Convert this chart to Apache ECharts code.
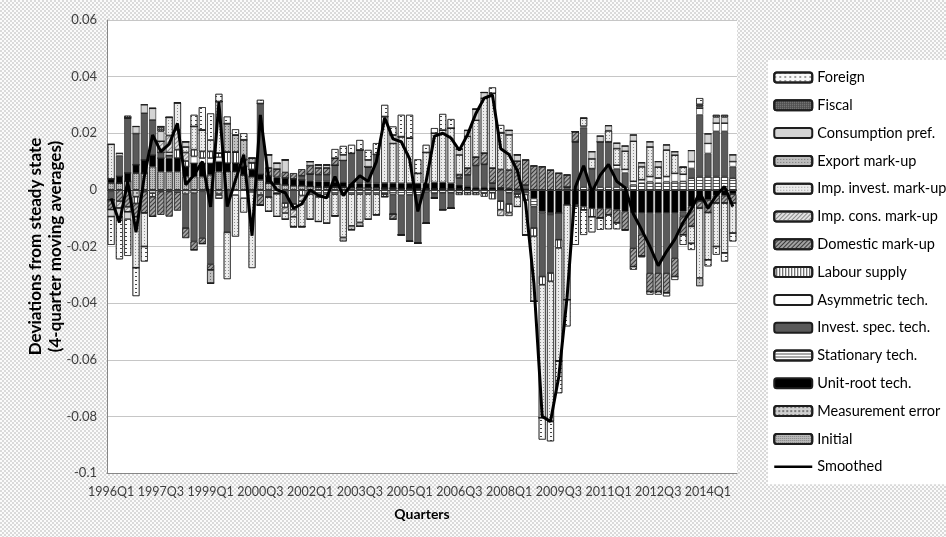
<!DOCTYPE html>
<html><head><meta charset="utf-8">
<script src="https://cdn.jsdelivr.net/npm/echarts/dist/echarts.min.js"></script>
<style>
html,body{margin:0;padding:0;}
body{width:946px;height:537px;background:repeating-conic-gradient(#dadada 0% 25%, #fbfbfb 0% 50%) 0 0/4px 4px;}
#c{width:946px;height:537px;}
</style>
</head><body><div id="c"></div>
<script>
// Quarter labels 1996Q1 .. 2014Q4
const categories = [];
for (let y = 1996; y <= 2014; y++) for (let q = 1; q <= 4; q++) categories.push(y + 'Q' + q);

const yTicks = ['0.06','0.04','0.02','0','-0.02','-0.04','-0.06','-0.08','-0.1'];

// Contributions, in units of 0.001
const initial = [2.4,2.4,3,5.9,5.9,8.2,6.5,6.5,6.5,4.7, 4.7,4.7,5.3,6.5,6.5,6.5,5.3,4.7,3.5,2.4, 2,1.8,1.5,1.5,1.2,1,1,1,1,0.8, 0.8,0.8,0.8,0.6,0.6,0.5,0.5,0.4,0.4,0.4, 0.4,0.3,0.3,0.3,0.2,0.2,0.2,0.2,0.2,0.2, 0.2,0,0,0,0,0,0,0,0,0, 0,0,0,0,0,0,0,0,0,0, 0,0,0,0,0,0];
const measurement = [-0.5,0,0,-2.4,0,-1.2,-0.6,-0.6,-0.8,-1.5, -1.2,-0.5,-0.3,-1.5,0,0,0,0,-1.8,0, 0,0,0,0,0,0,0,0,0,0, 0,0,0,0,0,0,0,0,0,0, 0,0,0,0,0,0,0,0,0,0, 0,0,0,0,0,0,0,0,0,0, 0,0,0,0,0,0,0,0,0,0, 0,0,0,0,0,0];
const unitRoot = [1.5,2.4,3,3,4.7,4.1,4.7,4.7,4.7,3.5, 4.7,4.7,4.1,3.5,2.9,2.9,3,2.5,2,2.4, 2.4,2.4,2.4,2,2,2,2,1.8,1.8,1.5, 1.5,1.5,1.5,1.8,1.8,1.8,1.8,1.8,1.8,2.2, 2.2,2,1.5,1,0.8,0.8,0.8,0.5,0.3,-0.5, -0.6,-3,-7.6,-8.2,-8.2,-5.3,-5.3,-5.9,-6.5,-6.5, -6.5,-7,-7.6,-8.2,-8.2,-8.2,-8.2,-8.2,-8.2,-7.6, -5.9,-4,-3.5,-2,-2,-1.5];
const stationary = [0,0,0,0,0,0,0,1,0,0, 0,0,0,-1.5,0,0,0,0,0,0, -1.4,0,0,0,-1.5,-1.5,-1.5,-1.5,-1.5,-1.5, -1.5,-1.5,-1.5,-1.5,-1.6,-1.9,-1.7,-1.8,-0.8,-1.4, -1,-1,-1,-1,-1,-1.2,-1,0,-1,-1, -1,-2.9,-0.6,-0.6,0,0,-0.5,1,1,1, 1,1,1,1.8,2.4,2.9,2.4,2.9,2.9,3, 4.1,4.7,4.7,4.7,4.7,4.1];
const investSpec = [-3,7.3,19.4,11,16.5,12.4,2,0,0,-12, -17,-16.5,-26,0,-15,0,0,0,25,-2.6, 0,-4.7,-5,1.5,2.4,2.4,2.4,5.9,7.6,10.6, 11.8,5.9,10.2,0,-7,-14,-16.5,-17,-11,-1.5, -6,-5.5,2.4,4,7.6,8,1.4,-4,-4,0, 1.5,-7.6,-22.4,-20.6,-9.4,1,17,21,6.5,16, 16,6.5,5,-12.4,-7.6,-21.2,-21.2,-21.2,-15.9,-1.8, 3.5,21.8,8.2,16,16,4.1];
const asymmetric = [0,0.8,0,0,0,0,0,1,0,0, 2.4,1.8,1.8,1.5,0,-1.8,-2.9,-0.7,0,0, 0,0,0,0,0,0,0,0,0,0, 0,0,0,0,0,0,0,0,0,0, 0,0,0,0,0,0,0,0,0,0, 0,0,0,0,0,0,0,0.5,0,0, 0,1.2,1.2,1.2,1.2,1.8,1.8,1.8,2.9,2.5, 2.4,2.4,3.5,2.9,2.9,1.8];
const labour = [0,0,0,-2.4,-0.6,-1.2,0,0,3,2, 2.4,2.4,2.4,1.5,4,4,2.4,2.4,0,0, 0,-1.5,-2,-2,0,-1,-1,0,0,0, 0,0,0,-0.9,0,0,0,0,0,0, 0,0,-0.8,-0.8,-0.8,-1.2,-2.3,-3,-3,-1, -2,-2.9,-2.9,-2.9,-2.9,0,0,-1.2,-3,0, 0,0,0,0,0,0,0,0,0,0, 0,0,0,0,0,0];
const domestic = [-3.5,-4,-6,-4.7,-7.6,-7,-8.2,-8.8,-6.5,-3.5, -3,-2,-2,0,0,0,0,0,-3.5,3, 3,2,2,2.3,3,2.4,2.4,2.5,0,0, 0,0,0,0,-1.8,0,0,0,0,0, 0,0,1.2,2.4,3,4,5.3,6.5,6.5,10, 8.9,8.5,8.2,7,5.9,4.3,3.6,0,0,-3.5, -2.4,-4.7,-6.5,-6.5,-7.6,-6.5,-6.5,-7,-6.5,-6.5, -7,-2.5,-4.5,-2.7,-2.7,-3.2];
const impCons = [0,-2.5,-1.8,0,0,0,4,6,7,3, 0,0,0,0,0,0,0,0,0,0, 0,-2,-2.5,-2,0,0,0,0,0,0, 0,0,0,0,0,0,0,0,0,0, 0,0,0,0,0,0,0,-2.2,-1.2,0, 0,0,0,0,0,0,0,0,0,0, 0,0,0,0,0,0,0,0,0,0, 0,0,0,0,0,0];
const impInvest = [12.2,0,0,-18,-11.8,0,0,6.4,9.6,2, 8.2,7.6,4,18.2,-16.5,-14.7,-5.1,-26.9,0,-5, -8,-2.2,-3.5,-9,-8.9,-8.7,-9.3,-7.7,-15.3,-11.2, -10,-8.9,-7.3,23.5,14,16.5,16,3.6,11,17.4, 18.5,19.5,7,11.2,13,19.4,26.4,13,12.5,-3.4, -12.3,-23,-47,-49.5,-40,-33.5,0,2.8,3.5,0, 3.9,5.9,6.5,14.2,4.6,10.5,3.9,9.4,6.5,2.5, -6,-24.6,-16.7,-15.3,-17.6,-10.6];
const exportMk = [0,0,0,0,0,0,0,0,0,0, 0,0,-4.7,0,10,6,7,1.6,0,0, 0,0,0,0,0,0,0,0,-1.4,-1.4, -1.4,0,0,0,0,0,0,0,0,0, 0,0,0,0,0,0,0,0,0,0, 0,0,0,0,0,0,0,0,0,0, 0,0,0,0,0,0,0,0,0,0, 0,-2.9,0,0,0,0];
const consPref = [-2.4,-3,-2.5,2.5,3,4.1,3.5,0,0,1.8, 0,0,0,0,0,0,0,0,0,4.6, 2,4.4,0,0,1.4,1,1,0,2,0, 0,2.4,0,0,3,0,0,0,0,0, 0,0,2,2.1,3.9,2,0,0,1.5,2.2, 0,0,0,0,0,0,0,0,2.5,2, 1.8,1.9,1.8,2.2,1.4,1.8,1.9,1.8,1.2,0, 3.9,0.5,3.4,2.1,2.1,2.4];
const fiscal = [0,0,0.8,0,0,0,1.7,0,0,0, 0,0,0,0,0,0,0,0,0,0, 0,0,0,0,0,0,0,0,0,0, 0,0,0,0,0,0,0,0,0,0, 0,0,0,0,0,0,0,0,0,0, 0,0,0,0,0,0,0,0,0,0, 0,0,0,0,0,0,0,0,0,0, 0,0.8,0,0.8,0.8,0];
const foreign = [-10,-15,-13,-10,-5.3,0,0,0,0,0, 4.1,8,9.4,2.7,2.5,2,2.3,0,1.3,0, 0,0,0,0,0,0,0,3.2,3.1,3, 3.5,3.5,4,4.1,3,7.7,8.2,5,2.7,1.8, 5.7,3.2,0,0,0,0,2.1,2.7,0,0, 0,0,-7.7,-7,-11.3,-9.4,-13.6,-8.8,-5.5,-4.1, -5,-2.2,-0.3,-1.1,-0.4,-1.1,-1.1,-1.2,-1.2,-3.5, -2.3,2.2,-2.3,-2.9,-3,-2.9];
const smoothed = [-3,-11.5,3,-15,4.7,19.4,13.5,16.2,23.5,1.8, 5.3,10,-6,31,-5.9,3.5,12.4,-16.2,26.5,4, 0,-1,-6.5,-5,0,-2,-2.8,4.7,-2,2, 5,3,10,25.5,18,17,11,-7.6,3,19, 20,18.3,14,19.5,27,32.4,33.5,14.5,12.5,6.8, -4.7,-33,-80,-81.8,-66,-38,1,8.5,-0.8,5.2, 9,3,0.8,-8.5,-14.1,-20,-26.8,-21.8,-17.5,-11.5, -6.8,-1,-6.5,-2,1.2,-5.9];

const U = 0.001;
const toV = a => a.map(v => +(v * U).toFixed(5));

const FONT = "Lato, 'Noto Sans', sans-serif";
const dots = (c) => ({symbol:'rect', symbolSize:1, dashArrayX:[1,2], dashArrayY:[1,2], color:c});
const lines = (c, rot, gap) => ({symbol:'rect', symbolSize:1, dashArrayX:[1,0], dashArrayY:[1,gap], rotation:rot, color:c});

const defs = [
  ['Initial', initial, '#bcbcbc', {symbol:'rect', symbolSize:1, dashArrayX:[1,1], dashArrayY:[1,1], color:'#7c7c7c'}],
  ['Measurement error', measurement, '#d0d0d0', {symbol:'rect', symbolSize:1, dashArrayX:[2,2], dashArrayY:[2,2], color:'#7a7a7a'}],
  ['Unit-root tech.', unitRoot, '#000000', null],
  ['Stationary tech.', stationary, '#ffffff', lines('#555555', 0, 2)],
  ['Invest. spec. tech.', investSpec, '#5a5a5a', null],
  ['Asymmetric tech.', asymmetric, '#ffffff', null],
  ['Labour supply', labour, '#ffffff', lines('#444444', Math.PI/2, 2)],
  ['Domestic mark-up', domestic, '#a2a2a2', lines('#3a3a3a', -Math.PI/4, 2)],
  ['Imp. cons. mark-up', impCons, '#e2e2e2', lines('#8a8a8a', -Math.PI/4, 2)],
  ['Imp. invest. mark-up', impInvest, '#ececec', dots('#8e8e8e')],
  ['Export mark-up', exportMk, '#bdbdbd', dots('#6e6e6e')],
  ['Consumption pref.', consPref, '#d4d4d4', null],
  ['Fiscal', fiscal, '#4a4a4a', {symbol:'rect', symbolSize:1, dashArrayX:[1,1], dashArrayY:[1,1], color:'#9a9a9a'}],
  ['Foreign', foreign, '#fbfbfb', {symbol:'rect', symbolSize:1, dashArrayX:[2,3], dashArrayY:[1,3], color:'#444444'}]
];

const series = defs.map(([name, data, color, decal]) => {
  const itemStyle = {color: color, borderColor: '#1e1e1e', borderWidth: 0.6};
  if (decal) itemStyle.decal = decal;
  return {
    name: name, type: 'bar', stack: 'total', data: toV(data),
    barCategoryGap: '16%', itemStyle: itemStyle, z: 2,
    emphasis: {disabled: true}
  };
});

series.push({
  name: 'Smoothed', type: 'line', data: toV(smoothed), symbol: 'none', showSymbol: false,
  lineStyle: {color: '#000', width: 3}, itemStyle: {color: '#000'}, z: 5,
  emphasis: {disabled: true},
  markLine: {silent: true, symbol: 'none', label: {show: false},
    lineStyle: {color: '#3a3a3a', width: 1, type: 'solid'}, data: [{yAxis: 0}]}
});

const legendOrder = ['Foreign','Fiscal','Consumption pref.','Export mark-up','Imp. invest. mark-up','Imp. cons. mark-up','Domestic mark-up','Labour supply','Asymmetric tech.','Invest. spec. tech.','Stationary tech.','Unit-root tech.','Measurement error','Initial'].map(n => ({name: n}));
legendOrder.push({name: 'Smoothed', itemStyle: {opacity: 0}, lineStyle: {width: 2.5, color: '#000'}});

const chart = echarts.init(document.getElementById('c'), null, {renderer: 'canvas'});
chart.setOption({
  animation: false,
  backgroundColor: 'transparent',
  textStyle: {fontFamily: FONT},
  grid: {left: 107, right: 209, top: 20, bottom: 64, show: true, backgroundColor: '#ffffff', borderWidth: 0, outerBoundsMode: 'none'},
  legend: {
    orient: 'vertical', left: 768, top: 60, padding: [10, 4, 10, 5],
    backgroundColor: '#ffffff', itemWidth: 38, itemHeight: 10, itemGap: 12.8,
    textStyle: {fontSize: 14.5, color: '#000', fontFamily: FONT, lineHeight: 14},
    data: legendOrder, selectedMode: false
  },
  xAxis: {
    type: 'category', data: categories,
    axisLine: {onZero: false, lineStyle: {color: '#868686', width: 1}},
    axisTick: {show: false},
    axisLabel: {interval: 5, color: '#404040', fontSize: 12.5, margin: 12, fontFamily: FONT},
    splitLine: {show: false},
    name: 'Quarters', nameLocation: 'middle', nameGap: 34, nameMoveOverlap: false,
    nameTextStyle: {fontWeight: 'bold', fontSize: 14, color: '#000', fontFamily: FONT}
  },
  yAxis: {
    type: 'value', min: -0.1, max: 0.06, interval: 0.02,
    axisLine: {show: true, lineStyle: {color: '#868686', width: 1}},
    axisTick: {show: false},
    splitLine: {show: true, lineStyle: {color: '#c6c6c6', width: 1}},
    axisLabel: {color: '#404040', fontSize: 13, margin: 10, fontFamily: FONT,
      formatter: v => String(+v.toFixed(2))},
    name: 'Deviations from steady state\n(4-quarter moving averages)',
    nameLocation: 'middle', nameGap: 41, nameRotate: 90, nameMoveOverlap: false,
    nameTextStyle: {fontWeight: 'bold', fontSize: 17, color: '#000', lineHeight: 20, fontFamily: FONT}
  },
  series: series
});
</script></body></html>
